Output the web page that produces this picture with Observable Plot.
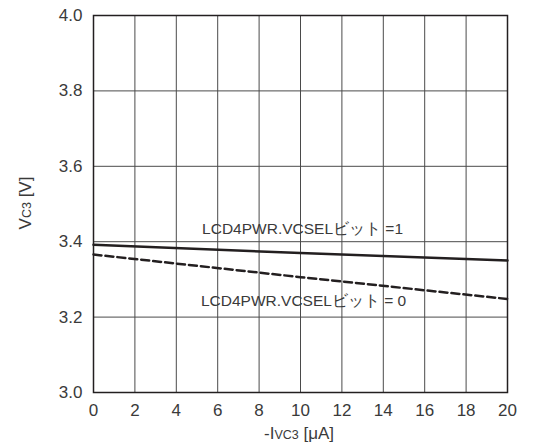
<!DOCTYPE html>
<html>
<head>
<meta charset="utf-8">
<script src="https://cdn.jsdelivr.net/npm/d3@7"></script>
<script src="https://cdn.jsdelivr.net/npm/@observablehq/plot@0.6"></script>
<style>
  html, body { margin: 0; padding: 0; background: #fff; }
  #chart svg { display: block; }
</style>
</head>
<body>
<div id="chart"></div>
<script>
const xTicks = [0, 2, 4, 6, 8, 10, 12, 14, 16, 18, 20];
const yTicks = [3.0, 3.2, 3.4, 3.6, 3.8, 4.0];

const currents = [0, 10, 20];
const vcsel1 = [3.392, 3.370, 3.350];
const vcsel0 = [3.366, 3.306, 3.248];

const labelTexts = ["LCD4PWR.VCSELビット =1", "LCD4PWR.VCSELビット = 0"];
const labelX = [10.1, 10.15];
const labelY = [3.433, 3.242];

const s1 = currents.map((x, i) => ({x, y: vcsel1[i]}));
const s0 = currents.map((x, i) => ({x, y: vcsel0[i]}));
const labels = labelTexts.map((t, i) => ({x: labelX[i], y: labelY[i], t}));

const ink = "#231f20";
const txt = "#3a3a3a";
const font = "'Liberation Sans', Arial, sans-serif";
const fig = Plot.plot({
  width: 533,
  height: 448,
  marginLeft: 93,
  marginRight: 26,
  marginTop: 15,
  marginBottom: 56,
  style: {fontFamily: font, fontSize: "17px", color: txt, background: "#fff"},
  x: {domain: [0, 20], ticks: xTicks, tickSize: 0, tickPadding: 11, label: null},
  y: {domain: [3, 4], ticks: yTicks, tickFormat: d => d.toFixed(1), tickSize: 0, tickPadding: 11, label: null},
  marks: [
    Plot.ruleX(xTicks, {stroke: "#4a4a4a", strokeWidth: 1}),
    Plot.ruleY(yTicks, {stroke: "#4a4a4a", strokeWidth: 1}),
    Plot.frame({stroke: ink, strokeWidth: 1.5}),
    Plot.line(s1, {x: "x", y: "y", stroke: ink, strokeWidth: 2.5}),
    Plot.line(s0, {x: "x", y: "y", stroke: ink, strokeWidth: 2.5, strokeDasharray: "8,4"}),
    Plot.text(labels, {x: "x", y: "y", text: "t", fill: txt, fontSize: 15.5})
  ]
});

const svg = d3.select(fig);
// y axis label with small "C3"
const yl = svg.append("text")
  .attr("transform", "translate(31,203) rotate(-90)")
  .attr("text-anchor", "middle")
  .attr("fill", txt)
  .attr("font-size", 17)
  .attr("font-family", font);
yl.append("tspan").text("V");
yl.append("tspan").attr("font-size", 12.5).text("C3");
yl.append("tspan").text(" [V]");

// x axis label with small "VC3"
const xl = svg.append("text")
  .attr("x", 299)
  .attr("y", 439)
  .attr("text-anchor", "middle")
  .attr("fill", txt)
  .attr("font-size", 17)
  .attr("font-family", font);
xl.append("tspan").text("-I");
xl.append("tspan").attr("font-size", 12.5).text("VC3");
xl.append("tspan").text(" [μA]");

document.getElementById("chart").appendChild(fig);
</script>
</body>
</html>
